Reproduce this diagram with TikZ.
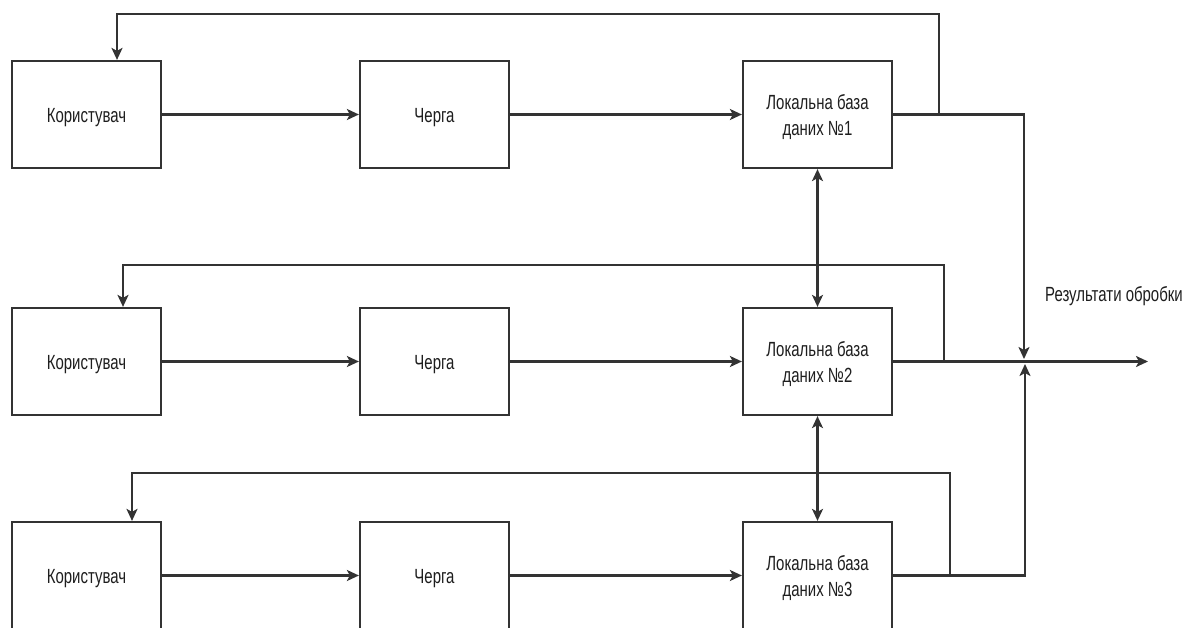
\documentclass[tikz,border=0pt]{standalone}
\usepackage{fontspec}
\newfontfamily\labelfont[FakeStretch=0.73]{Liberation Sans}
\usetikzlibrary{arrows.meta}
\definecolor{linegray}{RGB}{51,51,51}
\definecolor{textgray}{RGB}{30,30,30}
\begin{document}
\begin{tikzpicture}[x=1pt,y=-1pt,
  block/.style={draw=linegray, line width=2.2pt, fill=white, minimum width=149pt,
    minimum height=107pt, inner sep=0pt},
  caption/.style={inner sep=0pt, align=center, text=textgray,
    font=\labelfont\fontsize{20.5}{26}\selectfont},
  conn/.style={draw=linegray, line width=2.2pt},
  tip/.style={-{Stealth[length=12pt,width=11pt,inset=3pt]}},
  bitip/.style={{Stealth[length=12pt,width=11pt,inset=3pt]}-{Stealth[length=12pt,width=11pt,inset=3pt]}}
]
\useasboundingbox (0,0) rectangle (1194,628);
\fill[white] (0,0) rectangle (1194,628);
\clip (0,0) rectangle (1194,628);

% three processing rows
\node[block] (u1) at (86.5,114.5) {};
\node[block] (q1) at (434.5,114.5) {};
\node[block] (d1) at (817.5,114.5) {};
\node[block] (u2) at (86.5,361.5) {};
\node[block] (q2) at (434.5,361.5) {};
\node[block] (d2) at (817.5,361.5) {};
\node[block] (u3) at (86.5,575.5) {};
\node[block] (q3) at (434.5,575.5) {};
\node[block] (d3) at (817.5,575.5) {};

% box captions
\node[caption] (u1t) at ([yshift=-3pt]u1.center) {Користувач};
\node[caption] (q1t) at ([yshift=-3pt]q1.center) {Черга};
\node[caption] (d1t) at ([yshift=-3pt]d1.center) {Локальна база\\даних №1};
\node[caption] (u2t) at ([yshift=-3pt]u2.center) {Користувач};
\node[caption] (q2t) at ([yshift=-3pt]q2.center) {Черга};
\node[caption] (d2t) at ([yshift=-3pt]d2.center) {Локальна база\\даних №2};
\node[caption] (u3t) at ([yshift=-3pt]u3.center) {Користувач};
\node[caption] (q3t) at ([yshift=-3pt]q3.center) {Черга};
\node[caption] (d3t) at ([yshift=-3pt]d3.center) {Локальна база\\даних №3};

% output collector and label
\coordinate (out1) at (1024,114.5);
\coordinate (out1end) at (1024,359);
\coordinate (out3) at (1025,575.5);
\coordinate (out3end) at (1025,364);
\coordinate (outend) at (1148,361.5);
\node[caption] (res) at (1114,296) {Результати обробки};

% feedback branch points
\coordinate (fb1) at (939,114.5);
\coordinate (fb2) at (944,361.5);
\coordinate (fb3) at (950,575.5);

% forward flow
\draw[conn,tip] (u1) -- (q1);
\draw[conn,tip] (q1) -- (d1);
\draw[conn,tip] (u2) -- (q2);
\draw[conn,tip] (q2) -- (d2);
\draw[conn,tip] (u3) -- (q3);
\draw[conn,tip] (q3) -- (d3);

% results
\draw[conn,tip] (d1.east) -- (out1) -- (out1end);
\draw[conn,tip] (d2.east) -- (outend);
\draw[conn,tip] (d3.east) -- (out3) -- (out3end);

% feedback to the users
\draw[conn,tip] (fb1) -- (939,14) -- (117,14) -- (u1.north -| 117,0);
\draw[conn,tip] (fb2) -- (944,265) -- (123,265) -- (u2.north -| 123,0);
\draw[conn,tip] (fb3) -- (950,473) -- (132,473) -- (u3.north -| 132,0);

% synchronisation between local databases
\draw[conn,bitip] (d1.south) -- (d2.north);
\draw[conn,bitip] (d2.south) -- (d3.north);
\end{tikzpicture}
\end{document}
